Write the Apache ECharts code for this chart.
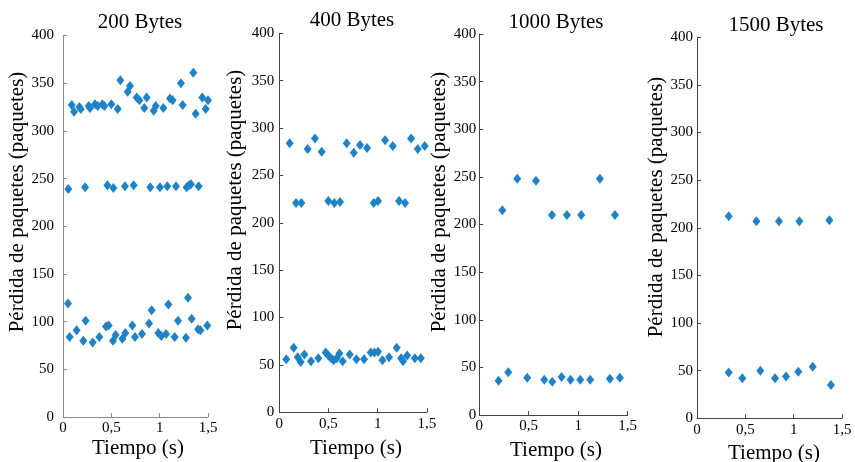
<!DOCTYPE html>
<html>
<head>
<meta charset="utf-8">
<script src="https://cdn.jsdelivr.net/npm/echarts@6/dist/echarts.min.js"></script>
<style>html,body{margin:0;padding:0;background:#fff;}#c{width:855px;height:462px;}</style>
</head>
<body>
<div id="c"></div>
<script>
// ---- data ----
var panelTitles = ['200 Bytes', '400 Bytes', '1000 Bytes', '1500 Bytes'];
var xTickLabels = ['0', '0,5', '1', '1,5'];
var yAxisName = 'Pérdida de paquetes (paquetes)';
var xAxisName = 'Tiempo (s)';

var time200 = [0.09,0.114,0.169,0.183,0.266,0.279,0.331,0.359,0.407,0.428,0.5,0.566,0.593,0.669,0.693,0.762,0.79,0.841,0.866,0.938,0.959,1.038,1.107,1.134,1.22,1.238,1.348,1.372,1.441,1.476,1.5,
  0.055,0.228,0.459,0.521,0.641,0.731,0.903,1.003,1.079,1.169,1.279,1.303,1.324,1.403,
  0.052,0.069,0.141,0.21,0.234,0.307,0.376,0.445,0.472,0.517,0.545,0.614,0.645,0.717,0.745,0.817,0.89,0.917,0.986,1.017,1.066,1.09,1.155,1.19,1.272,1.293,1.331,1.397,1.421,1.493];
var loss200 = [327,320,325,323,326,324,328,326,328,326,328,323,353,341,347,335,332,324,335,321,326,324,334,332,350,327,361,318,335,323,332,
  239,241,243,240,242,243,241,241,242,242,241,243,244,242,
  119,84,91,80,101,78,84,95,96,80,86,82,88,96,84,87,98,112,88,85,87,118,84,101,83,125,103,92,91,96];

var time400 = [0.105,0.288,0.363,0.431,0.685,0.757,0.821,0.892,1.076,1.154,1.34,1.408,1.479,
  0.17,0.224,0.499,0.56,0.618,0.96,1.004,1.218,1.279,
  0.071,0.146,0.187,0.217,0.255,0.322,0.397,0.472,0.499,0.526,0.553,0.584,0.611,0.645,0.716,0.784,0.862,0.93,0.967,1.004,1.049,1.116,1.194,1.239,1.259,1.3,1.378,1.439];
var loss400 = [284,278,289,275,284,274,282,279,287,281,289,278,281,
  221,221,223,221,222,221,223,223,221,
  56,68,58,53,61,54,57,63,60,57,55,57,62,54,61,56,56,63,63,64,55,58,68,57,54,60,57,57];

var time1000 = [0.233,0.384,0.573,0.735,0.886,1.031,1.22,1.372,
  0.195,0.293,0.485,0.657,0.738,0.832,0.923,1.021,1.122,1.321,1.422];
var loss1000 = [215,248,246,210,210,210,248,210,
  36,45,39,37,35,40,37,37,37,38,39];

var time1500 = [0.328,0.614,0.848,1.059,1.369,
  0.328,0.469,0.655,0.807,0.921,1.048,1.197,1.386];
var loss1500 = [212,207,207,207,208,
  48,42,50,42,44,49,54,35];

var times = [time200, time400, time1000, time1500];
var losses = [loss200, loss400, loss1000, loss1500];

// ---- layout ----
var FONT = 'Liberation Serif';
var grids = [
  {left: 63, top: 35.5, width: 145, height: 381.5},
  {left: 279.3, top: 33.3, width: 147.5, height: 379},
  {left: 479.3, top: 34, width: 148.3, height: 381},
  {left: 697, top: 37.3, width: 145, height: 381}
];
var axisColors = ['#8a8a8a', '#444', '#444', '#444'];
var yLabelMargins = [9, 5, 3, 4];
var titlePos = [[140, 22], [352, 20], [556, 22], [776, 25]];
var yNamePos = [[17, 202], [235, 200], [439, 202], [656, 207]];
var xNamePos = [[138, 448], [356, 448], [556, 450], [774, 453]];
var COLOR = '#1f82c6';

var xAxes = [], yAxes = [], series = [], graphics = [];
for (var i = 0; i < 4; i++) {
  xAxes.push({
    gridIndex: i, type: 'value', min: 0, max: 1.5, interval: 0.5,
    axisLine: {show: true, lineStyle: {color: axisColors[i], width: 1}},
    axisTick: {show: true, inside: true, length: 4, lineStyle: {color: axisColors[i]}},
    splitLine: {show: false},
    axisLabel: {
      color: '#000', fontFamily: FONT, fontSize: 15, margin: 4,
      formatter: function (v) { return xTickLabels[Math.round(v / 0.5)]; }
    }
  });
  yAxes.push({
    gridIndex: i, type: 'value', min: 0, max: 400, interval: 50,
    axisLine: {show: true, lineStyle: {color: axisColors[i], width: 1}},
    axisTick: {show: true, inside: true, length: 4, lineStyle: {color: axisColors[i]}},
    splitLine: {show: false},
    axisLabel: {color: '#000', fontFamily: FONT, fontSize: 15, margin: yLabelMargins[i]}
  });
  var d = [];
  for (var k = 0; k < times[i].length; k++) d.push([times[i][k], losses[i][k]]);
  series.push({
    type: 'scatter', xAxisIndex: i, yAxisIndex: i, data: d,
    symbol: 'diamond', symbolSize: [8, 10], clip: false,
    itemStyle: {color: COLOR, opacity: 1}
  });
  graphics.push({
    type: 'text', x: titlePos[i][0], y: titlePos[i][1],
    style: {text: panelTitles[i], font: '21px "' + FONT + '"', fill: '#000', textAlign: 'center', textVerticalAlign: 'middle'}
  });
  graphics.push({
    type: 'text', x: yNamePos[i][0], y: yNamePos[i][1], rotation: Math.PI / 2,
    style: {text: yAxisName, font: '21px "' + FONT + '"', fill: '#000', textAlign: 'center', textVerticalAlign: 'middle'}
  });
  graphics.push({
    type: 'text', x: xNamePos[i][0], y: xNamePos[i][1],
    style: {text: xAxisName, font: '21px "' + FONT + '"', fill: '#000', textAlign: 'center', textVerticalAlign: 'middle'}
  });
}

var chart = echarts.init(document.getElementById('c'), null, {renderer: 'canvas'});
chart.setOption({
  animation: false,
  backgroundColor: '#fff',
  grid: grids,
  xAxis: xAxes,
  yAxis: yAxes,
  series: series,
  graphic: graphics
});
</script>
</body>
</html>
